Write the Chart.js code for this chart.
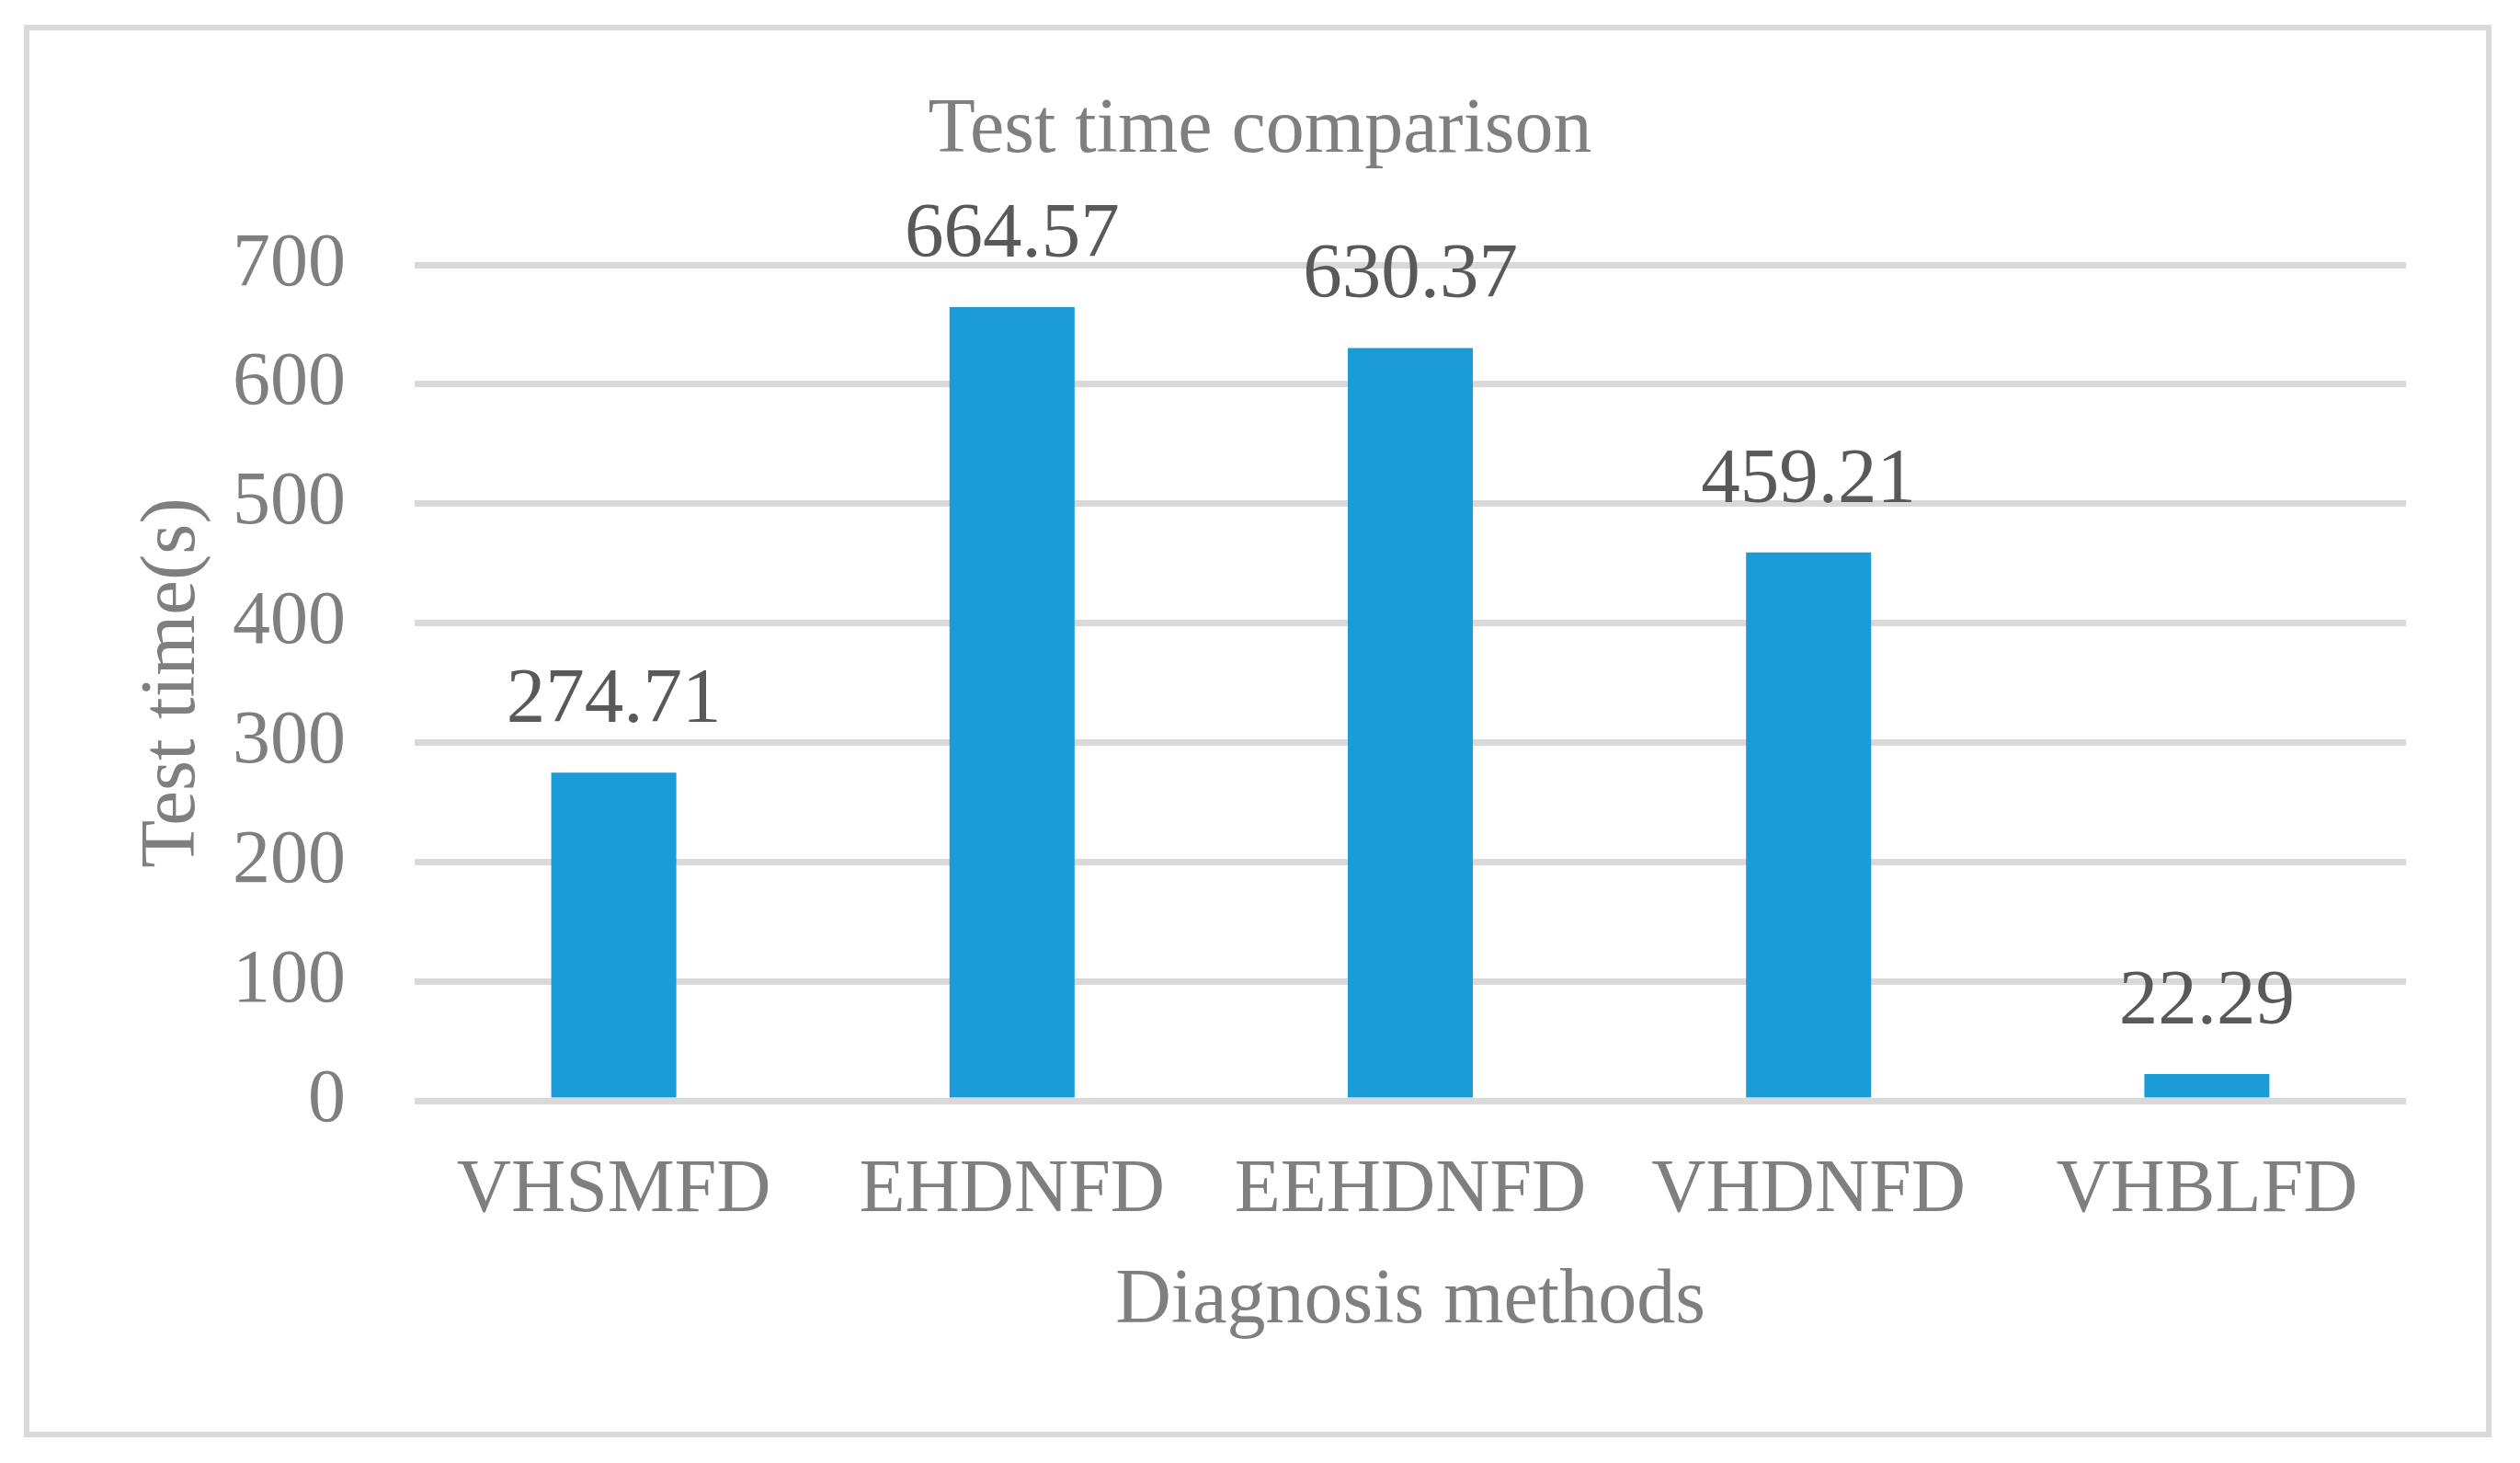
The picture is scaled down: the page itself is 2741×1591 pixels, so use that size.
<!DOCTYPE html>
<html>
<head>
<meta charset="utf-8">
<title>Test time comparison</title>
<script src="https://cdn.jsdelivr.net/npm/chart.js@4"></script>
<style>
    html, body { margin: 0; padding: 0; background: #ffffff; }
    #frame {
        position: absolute; left: 26px; top: 27px; width: 2684px; height: 1536px;
        border: 6px solid #d9d9d9; box-sizing: border-box;
    }
    #testTimeChart { position: absolute; left: 0; top: 0; }
</style>
</head>
<body>
<div id="frame"></div>
<canvas id="testTimeChart" width="2741" height="1591"></canvas>
<script>
const chartTitle = 'Test time comparison';
const methods = ['VHSMFD', 'EHDNFD', 'EEHDNFD', 'VHDNFD', 'VHBLFD'];
const testTimes = [274.71, 664.57, 630.37, 459.21, 22.29];
const yTicks = [0, 100, 200, 300, 400, 500, 600, 700];

const serif = "'Liberation Serif', 'Times New Roman', serif";
const grey = '#7f7f7f';

// Title centred on the whole frame, value labels above each bar
const chartText = {
    id: 'chartText',
    afterDraw(chart) {
        const { ctx } = chart;
        ctx.save();
        ctx.textAlign = 'center';
        ctx.font = `84px ${serif}`;
        ctx.fillStyle = grey;
        ctx.textBaseline = 'middle';
        ctx.fillText(chartTitle, chart.width / 2, 143);

        ctx.font = `85px ${serif}`;
        ctx.fillStyle = '#595959';
        ctx.textBaseline = 'alphabetic';
        chart.getDatasetMeta(0).data.forEach((bar, i) => {
            ctx.fillText(testTimes[i].toFixed(2), bar.x, bar.y - 55);
        });
        ctx.restore();
    }
};

const ctx = document.getElementById('testTimeChart').getContext('2d');
new Chart(ctx, {
    type: 'bar',
    data: {
        labels: methods,
        datasets: [{
            label: 'Test time(s)',
            data: testTimes,
            backgroundColor: '#1b9bd7',
            borderWidth: 0,
            barPercentage: 1,
            categoryPercentage: 0.314
        }]
    },
    options: {
        responsive: false,
        animation: false,
        layout: { padding: { left: 0, right: 124, top: 288, bottom: 0 } },
        scales: {
            x: {
                grid: { display: false, drawTicks: false },
                border: { display: false },
                ticks: { color: grey, font: { family: serif, size: 82 }, padding: 49, maxRotation: 0 },
                title: { display: true, text: 'Diagnosis methods', color: grey, font: { family: serif, size: 84 }, padding: { top: 0, bottom: 125 } },
                afterFit: scale => { scale.height = 394; }
            },
            y: {
                min: 0,
                max: 700,
                afterBuildTicks: scale => { scale.ticks = yTicks.map(v => ({ value: v })); },
                grid: { color: '#d9d9d9', lineWidth: 7, drawTicks: false },
                border: { display: false },
                ticks: { color: grey, font: { family: serif, size: 82 }, padding: 75 },
                title: { display: true, text: 'Test time(s)', color: grey, font: { family: serif, size: 85 }, padding: { top: 138, bottom: 0 } },
                afterFit: scale => { scale.width = 451; }
            }
        },
        plugins: {
            legend: { display: false },
            tooltip: { enabled: false },
            title: { display: false }
        }
    },
    plugins: [chartText]
});
</script>
</body>
</html>
